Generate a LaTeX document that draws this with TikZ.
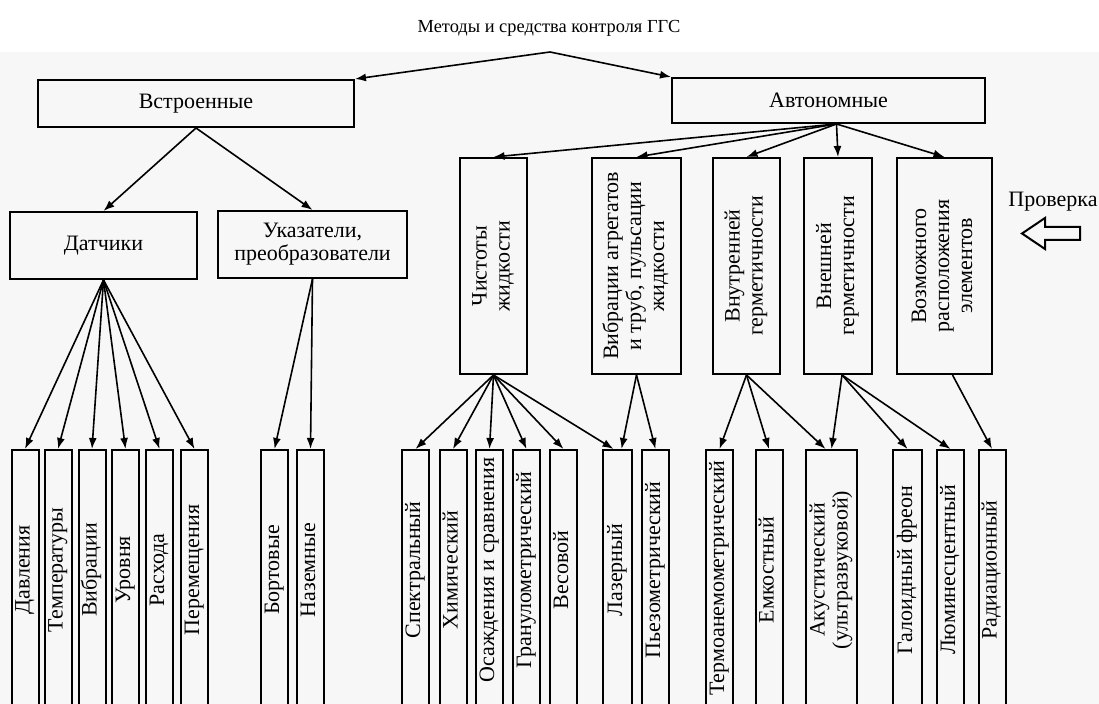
\documentclass[tikz,border=0pt]{standalone}
\usepackage{fontspec}
\setmainfont{Liberation Serif}
\usetikzlibrary{arrows.meta}

\newcommand{\vlabel}[1]{\rotatebox{90}{\begin{tabular}{@{}c@{}}#1\end{tabular}}}
\newcommand{\vleaf}[1]{\rotatebox{90}{\hspace*{8pt}\begin{tabular}{@{}c@{}}#1\end{tabular}}}

\tikzset{
	box/.style={draw, line width=1, align=center, inner sep=0pt, font=\fontsize{11}{11.5}\selectfont},
	leaf/.style={box, minimum width=13.5pt, minimum height=128pt},
	group/.style={box, minimum height=108pt}
}

\begin{document}
\begin{tikzpicture}[x=0.5pt, y=-0.5pt, >={Latex[length=5.5pt,width=4pt]}]
	\useasboundingbox (0,0) rectangle (1099,704);
	\clip (0,0) rectangle (1099,704);
	\fill[black!3] (0,52) rectangle (1099,704);

		% nodes - upper levels %
		\node[font=\fontsize{9.2}{11}\selectfont] (title) at (549,28) {Методы и средства контроля ГГС};
		\coordinate (split) at (550,52);
		\node[box, minimum width=158pt, minimum height=23.5pt] (vstr) at (196,103.5) {Встроенные};
		\node[box, minimum width=156.5pt, minimum height=22.5pt] (avt) at (828.5,100.5) {Автономные};
		\node[box, minimum width=93.5pt, minimum height=33.5pt] (dat) at (103.5,245.5) {Датчики};
		\node[box, minimum width=94.5pt, minimum height=33.5pt] (uka) at (312.5,244.5) {Указатели,\\преобразователи};

		% nodes - checks %
		\node[group, minimum width=33.5pt] (chi) at (493.5,266) {\vlabel{Чистоты\\жидкости}};
		\node[group, minimum width=44.5pt] (vibag) at (636.5,266) {\vlabel{Вибрации агрегатов\\и труб, пульсации\\жидкости}};
		\node[group, minimum width=33.5pt] (vnu) at (746.5,266) {\vlabel{Внутренней\\герметичности}};
		\node[group, minimum width=34pt] (vne) at (838,266) {\vlabel{Внешней\\герметичности}};
		\node[group, minimum width=47.5pt] (voz) at (944.5,266) {\vlabel{Возможного\\расположения\\элементов}};
		\node[font=\fontsize{11}{12}\selectfont] (prov) at (1053,202) {Проверка};
		\draw[line width=1] (1022,233.5) -- (1045,218) -- (1045,227) -- (1080,227)
			-- (1080,240) -- (1045,240) -- (1045,249) -- cycle;

		% nodes - bottom row %
		\node[leaf] (dav) at (25,578) {\vleaf{Давления}};
		\node[leaf] (tem) at (58,578) {\vleaf{Температуры}};
		\node[leaf] (vibr) at (92,578) {\vleaf{Вибрации}};
		\node[leaf] (urv) at (125.5,578) {\vleaf{Уровня}};
		\node[leaf] (ras) at (159.5,578) {\vleaf{Расхода}};
		\node[leaf] (per) at (194.5,578) {\vleaf{Перемещения}};
		\node[leaf] (bort) at (274.5,578) {\vleaf{Бортовые}};
		\node[leaf] (naz) at (310.5,578) {\vleaf{Наземные}};
		\node[leaf] (spe) at (415.5,578) {\vleaf{Спектральный}};
		\node[leaf] (him) at (453,578) {\vleaf{Химический}};
		\node[leaf] (osa) at (489.5,578) {\vleaf{Осаждения и сравнения}};
		\node[leaf] (gra) at (526.5,578) {\vleaf{Гранулометрический}};
		\node[leaf] (ves) at (563.5,578) {\vleaf{Весовой}};
		\node[leaf, minimum width=14.5pt] (laz) at (617.5,578) {\vleaf{Лазерный}};
		\node[leaf] (pez) at (655.5,578) {\vleaf{Пьезометрический}};
		\node[leaf] (ter) at (719.5,578) {\vlabel{Термоанемометрический}};
		\node[leaf] (emk) at (769,578) {\vleaf{Емкостный}};
		\node[leaf, minimum width=25.5pt] (aku) at (831.5,578) {\vleaf{Акустический\\(ультразвуковой)}};
		\node[leaf, minimum width=14.5pt] (gal) at (907.5,578) {\vleaf{Галоидный фреон}};
		\node[leaf] (lum) at (950.5,578) {\vleaf{Люминесцентный}};
		\node[leaf] (rad) at (992,578) {\vleaf{Радиационный}};

		% edges - top %
		\draw[->, line width=0.8] (split) -- (vstr.north east);
		\draw[->, line width=0.8] (split) -- (avt.north west);
		\draw[->, line width=0.8] (vstr.south) -- (dat.north);
		\draw[->, line width=0.8] (vstr.south) -- (uka.north);
		\draw[->, line width=0.8] ([xshift=4pt]avt.south) -- (chi.north);
		\draw[->, line width=0.8] ([xshift=4pt]avt.south) -- (vibag.north);
		\draw[->, line width=0.8] ([xshift=4pt]avt.south) -- (vnu.north);
		\draw[->, line width=0.8] ([xshift=4pt]avt.south) -- (vne.north);
		\draw[->, line width=0.8] ([xshift=4pt]avt.south) -- (voz.north);

		% edges - sensors %
		\draw[->, line width=0.8] (dat.south) -- (dav.north);
		\draw[->, line width=0.8] (dat.south) -- (tem.north);
		\draw[->, line width=0.8] (dat.south) -- (vibr.north);
		\draw[->, line width=0.8] (dat.south) -- (urv.north);
		\draw[->, line width=0.8] (dat.south) -- (ras.north);
		\draw[->, line width=0.8] (dat.south) -- (per.north);
		\draw[->, line width=0.8] (uka.south) -- (bort.north);
		\draw[->, line width=0.8] (uka.south) -- (naz.north);

		% edges - methods %
		\draw[->, line width=0.8] (chi.south) -- (spe.north);
		\draw[->, line width=0.8] (chi.south) -- (him.north);
		\draw[->, line width=0.8] (chi.south) -- (osa.north);
		\draw[->, line width=0.8] (chi.south) -- (gra.north);
		\draw[->, line width=0.8] (chi.south) -- (ves.north);
		\draw[->, line width=0.8] (chi.south) -- ([xshift=-2pt]laz.north);
		\draw[->, line width=0.8] (vibag.south) -- ([xshift=2pt]laz.north);
		\draw[->, line width=0.8] (vibag.south) -- (pez.north);
		\draw[->, line width=0.8] (vnu.south) -- (ter.north);
		\draw[->, line width=0.8] (vnu.south) -- (emk.north);
		\draw[->, line width=0.8] (vnu.south) -- ([xshift=-3pt]aku.north);
		\draw[->, line width=0.8] ([xshift=2pt]vne.south) -- (aku.north);
		\draw[->, line width=0.8] ([xshift=2pt]vne.south) -- (gal.north);
		\draw[->, line width=0.8] ([xshift=2pt]vne.south) -- (lum.north);
		\draw[->, line width=0.8] ([xshift=4pt]voz.south) -- (rad.north);

\end{tikzpicture}
\end{document}
